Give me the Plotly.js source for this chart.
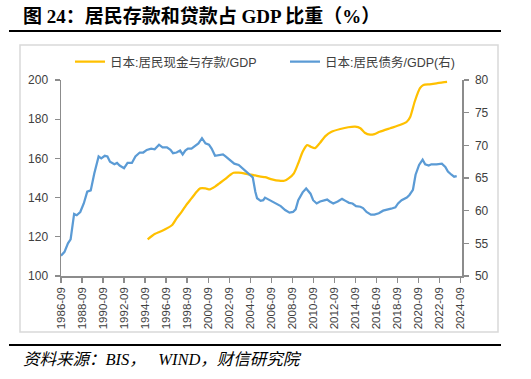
<!DOCTYPE html>
<html>
<head>
<meta charset="utf-8">
<script src="https://cdn.plot.ly/plotly-3.0.1.min.js"></script>
<style>html,body{margin:0;padding:0;background:#fff;}#chart{width:531px;height:379px;}</style>
</head>
<body>
<div id="chart"></div>
<script>
// 日本:居民现金与存款/GDP (left axis, %)
const depositDates = ['1994-12','1995-08','1996-02','1996-08','1997-04','1997-09','1998-03','1998-08','1999-02','1999-08','1999-12','2000-06','2000-11','2001-05','2001-10','2002-04','2002-10','2003-02','2003-08','2004-02','2004-07','2005-01','2005-09','2006-02','2006-10','2007-06','2007-12','2008-05','2008-11','2009-04','2009-09','2010-02','2010-06','2010-11','2011-05','2011-11','2012-06','2013-04','2014-01','2014-09','2015-03','2015-08','2016-02','2016-07','2017-01','2018-01','2018-12','2019-08','2019-12','2020-05','2020-11','2021-03','2021-10','2022-06','2023-01','2023-06'];
const depositVals = [118.7,121.4,122.6,123.8,126.0,129.4,132.8,136.2,139.6,143.0,144.7,144.7,144.2,145.6,147.3,149.3,151.5,152.7,152.7,152.4,151.9,151.5,150.7,150.4,149.3,148.6,148.6,149.8,152.4,157.5,163.4,166.8,166.0,165.2,168.0,171.4,173.6,175.0,175.9,176.2,175.4,173.1,172.1,172.4,173.6,175.4,177.0,178.7,181.3,188.9,195.8,197.4,197.8,198.3,198.8,199.0];

// 日本:居民债务/GDP(右) (right axis, %)
const debtDates = ['1986-09','1987-01','1987-05','1987-08','1987-12','1988-03','1988-07','1988-11','1989-03','1989-07','1989-11','1990-04','1990-07','1990-11','1991-02','1991-05','1991-10','1992-01','1992-04','1992-09','1993-01','1993-06','1993-10','1994-03','1994-07','1994-11','1995-04','1995-08','1996-01','1996-05','1996-10','1997-02','1997-05','1997-09','1998-01','1998-04','1998-07','1998-10','1999-02','1999-06','1999-10','2000-02','2000-03','2000-06','2000-10','2001-01','2001-05','2001-09','2002-02','2002-05','2002-10','2003-03','2003-08','2003-12','2004-04','2004-08','2004-12','2005-03','2005-05','2005-09','2005-12','2006-02','2006-06','2006-08','2007-02','2007-08','2008-01','2008-06','2008-10','2009-01','2009-04','2009-09','2010-01','2010-06','2010-09','2011-01','2011-05','2011-10','2012-01','2012-04','2012-08','2013-01','2013-06','2013-10','2014-02','2014-06','2014-10','2015-03','2015-06','2015-10','2016-03','2016-07','2016-12','2017-05','2017-09','2018-02','2018-07','2018-10','2019-02','2019-08','2019-11','2020-03','2020-06','2020-10','2021-02','2021-05','2021-09','2021-12','2022-06','2022-12','2023-04','2023-07','2023-11','2024-02','2024-05'];
const debtVals = [53.1,53.7,55.0,55.6,59.5,59.3,59.8,61.1,62.9,63.1,65.7,68.3,68.0,68.4,68.3,67.5,67.1,67.3,66.9,66.5,67.3,67.3,68.3,68.9,68.9,69.3,69.5,69.4,70.1,69.7,69.7,69.3,68.8,68.9,69.2,68.6,69.2,69.5,69.5,69.9,70.3,71.1,70.9,70.3,70.1,69.5,68.4,68.5,68.6,68.3,67.8,67.2,67.0,66.5,66.1,65.6,65.1,62.9,61.9,61.5,61.6,62.0,61.7,61.6,61.1,60.7,60.1,59.7,59.8,60.2,61.6,62.8,63.4,62.6,61.6,61.1,61.4,61.6,61.7,61.4,61.1,61.4,61.8,61.5,61.2,61.1,60.7,60.6,60.4,59.8,59.4,59.4,59.6,60.0,60.1,60.3,60.5,61.1,61.6,62.0,62.4,63.2,65.5,67.0,67.8,67.1,66.9,67.1,67.1,67.2,66.7,66.0,65.5,65.2,65.3];

const tickYears = [];
for (let y = 1986; y <= 2024; y += 2) tickYears.push(y);
const tickVals = tickYears.map(y => y + '-09-01');
const tickText = tickYears.map(y => y + '-09');

const leftTicks = [100,120,140,160,180,200];
const rightTicks = [50,55,60,65,70,75,80];

const seriesNames = ['日本:居民现金与存款/GDP','日本:居民债务/GDP(右)'];
const titleText = '图 24：居民存款和贷款占 GDP 比重（%）';
const sourceText = '资料来源：BIS，&nbsp;&nbsp;&nbsp;WIND，财信研究院';

const L = 61, R = 462, T = 80, B = 276;
const W = R - L, H = B - T;
const px = v => (v - L) / W;
const py = v => (B - v) / H;

const axisColor = '#8c8c8c';
const tickFont = {family: 'Liberation Sans, Arial, sans-serif', size: 12, color: '#404040'};
const legendFont = {family: 'Liberation Sans, Noto Sans CJK SC, sans-serif', size: 12.5, color: '#404040'};

const traces = [
  {x: depositDates, y: depositVals, name: seriesNames[0], type: 'scatter', mode: 'lines',
   line: {color: '#FFC000', width: 2.25, shape: 'spline', smoothing: 0.6}, yaxis: 'y', legend: 'legend'},
  {x: debtDates, y: debtVals, name: seriesNames[1], type: 'scatter', mode: 'lines',
   line: {color: '#5B9BD5', width: 2.25}, yaxis: 'y2', legend: 'legend2'}
];

const layout = {
  width: 531, height: 379,
  margin: {l: L, r: 531 - R, t: T, b: 379 - B, pad: 0},
  paper_bgcolor: '#ffffff', plot_bgcolor: '#ffffff',
  showlegend: true,
  legend: {orientation: 'h', x: px(70), xanchor: 'left', y: py(62), yanchor: 'middle',
    font: legendFont, bgcolor: 'rgba(0,0,0,0)'},
  legend2: {orientation: 'h', x: px(285), xanchor: 'left', y: py(62), yanchor: 'middle',
    font: legendFont, bgcolor: 'rgba(0,0,0,0)'},
  xaxis: {type: 'date', range: ['1986-09-01', '2024-11-01'], tickmode: 'array', tickvals: tickVals, ticktext: tickText,
    tickangle: -90, tickfont: {family: 'Liberation Sans, Arial, sans-serif', size: 11.5, color: '#404040'},
    showgrid: false, zeroline: false, showline: true, linecolor: axisColor, linewidth: 1.5,
    ticks: 'outside', ticklen: 5, tickcolor: axisColor, tickwidth: 1.2, fixedrange: true},
  yaxis: {range: [100, 200], tickmode: 'array', tickvals: leftTicks, tickfont: tickFont,
    showgrid: false, zeroline: false, showline: true, linecolor: axisColor, linewidth: 1.5,
    ticks: 'outside', ticklen: 5, tickcolor: axisColor, tickwidth: 1.2, ticklabelstandoff: 4},
  yaxis2: {range: [50, 80], tickmode: 'array', tickvals: rightTicks, tickfont: tickFont, overlaying: 'y', side: 'right',
    showgrid: false, zeroline: false, showline: true, linecolor: axisColor, linewidth: 1.5,
    ticks: 'outside', ticklen: 5, tickcolor: axisColor, tickwidth: 1.2, ticklabelstandoff: 4},
  shapes: [
    {type: 'rect', xref: 'paper', yref: 'paper', x0: px(20), x1: px(498), y0: py(332), y1: py(45),
     line: {color: '#d9d9d9', width: 1.5}, fillcolor: 'rgba(0,0,0,0)', layer: 'below'},
    {type: 'line', xref: 'paper', yref: 'paper', x0: px(9), x1: px(501), y0: py(31), y1: py(31),
     line: {color: '#000000', width: 2}},
    {type: 'line', xref: 'paper', yref: 'paper', x0: px(9), x1: px(501), y0: py(345), y1: py(345),
     line: {color: '#000000', width: 2}}
  ],
  annotations: [
    {text: '<b>' + titleText + '</b>', xref: 'paper', yref: 'paper', x: px(21), y: py(16), xanchor: 'left', yanchor: 'middle',
     showarrow: false, font: {family: 'Liberation Serif, Noto Sans CJK SC, serif', size: 19, color: '#000000'}},
    {text: '<i>' + sourceText + '</i>', xref: 'paper', yref: 'paper', x: px(21), y: py(359), xanchor: 'left', yanchor: 'middle',
     showarrow: false, font: {family: 'Liberation Serif, Noto Sans CJK SC, serif', size: 16.5, color: '#000000'}}
  ]
};

Plotly.newPlot('chart', traces, layout, {displayModeBar: false, staticPlot: true});
</script>
</body>
</html>
